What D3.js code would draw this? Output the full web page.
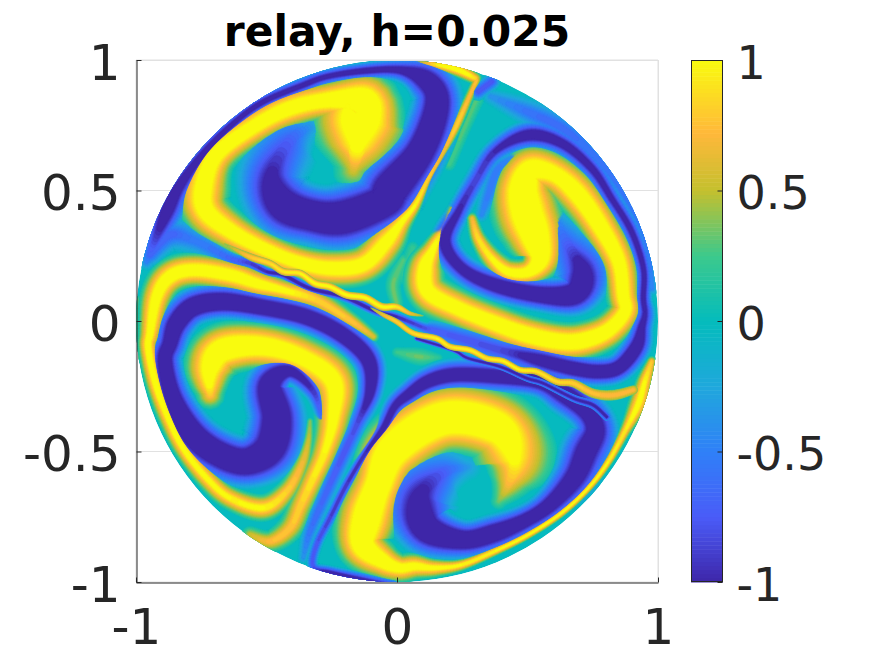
<!DOCTYPE html>
<html><head><meta charset="utf-8">
<script src="https://cdn.jsdelivr.net/npm/d3@7"></script>
<style>html,body{margin:0;padding:0;background:#fff}svg{display:block}text{font-family:"DejaVu Sans";fill:#262626}</style>
</head><body><svg id="c" width="875" height="656"></svg>
<script>
// Field bands: each row = [x, y, half breadth, peak value], all in axis units
const titleText = "relay, h=0.025";
const xTicks = [-1, 0, 1];
const yTicks = [-1, -0.5, 0, 0.5, 1];
const barTicks = [-1, -0.5, 0, 0.5, 1];
const parulaStops = [-1, -0.75, -0.5, -0.25, 0, 0.25, 0.5, 0.72, 1];
const parulaColors = ["#3e26a8", "#4a5cf8", "#2f80f8", "#1fa8dc", "#04bcbc", "#3cc98c", "#c4c02e", "#ffb83a", "#f9fb0e"];

const greenPatches = [
 [[-.001,.067,.03,.35],[-.014,.144,.035,.35],[.024,.233,.03,.3]],
 [[.0,-.12,.025,.25],[.088,-.137,.04,.35],[.16,-.14,.02,.2]],
 [[.31,.86,.035,.3],[.25,.72,.03,.3],[.2,.6,.03,.28]],
 [[-.985,.08,.02,.4],[-.985,-.14,.025,.42]],
 [[.06,.28,.03,.25],[.02,.17,.04,.2]]
];
const ulBlue = [[-.34,.74,.06,-.4],[-.41,.69,.11,-.7],[-.48,.56,.12,-1.05],[-.44,.45,.12,-1.4],[-.33,.405,.105,-1.5],[-.206,.397,.115,-1.5],[-.052,.457,.109,-1.5],[-.021,.508,.12,-1.5],[.082,.636,.095,-1.5],[.139,.764,.09,-1.45],[.152,.866,.085,-1.4],[.101,.93,.075,-1.3],[.005,.962,.04,-1.1],[-.129,.958,.03,-1.1],[-.27,.936,.03,-1.05],[-.359,.904,.032,-1.05],[-.512,.84,.032,-1.05],[-.627,.757,.032,-1.05],[-.736,.649,.04,-1.05],[-.831,.521,.05,-1.15],[-.882,.419,.06,-1.2],[-.934,.291,.05,-.8],[-.959,.227,.03,-.5]];
const urOuterSoft = [[.36,.86,.03,-.4],[.503,.8,.05,-.6],[.631,.74,.05,-.65],[.746,.645,.045,-.6],[.861,.505,.04,-.6],[.95,.329,.03,-.6],[.976,.125,.025,-.5]];
const urInnerSoft = [[.465,.636,.025,-.4],[.388,.585,.035,-.55],[.35,.483,.035,-.55],[.324,.406,.025,-.45]];
const urBlue = [[.6,.4,.05,-.42],[.65,.3,.09,-.7],[.71,.19,.1,-1.2],[.682,.106,.077,-1.45],[.554,.1,.058,-1.4],[.375,.138,.054,-1.3],[.248,.202,.05,-1.2],[.184,.304,.05,-1.2],[.235,.419,.04,-1.05],[.299,.534,.04,-.9],[.375,.649,.04,-1.0],[.503,.712,.05,-1.2],[.631,.681,.045,-1.15],[.746,.585,.04,-1.1],[.822,.47,.036,-1.05],[.899,.342,.034,-1.05],[.944,.202,.03,-1.05],[.944,.087,.03,-1.05],[.95,.029,.036,-1.0],[.938,-.022,.04,-1.1],[.918,-.098,.05,-1.3],[.854,-.175,.05,-1.35],[.778,-.194,.05,-1.35],[.676,-.182,.05,-1.35],[.548,-.15,.055,-1.2],[.471,-.13,.055,-1],[.395,-.111,.055,-.85],[.267,-.073,.05,-.8],[.139,-.035,.035,-.75],[.101,-.025,.02,-.85],[-.001,.016,.016,-1.0],[-.078,.036,.016,-1.05],[-.205,.093,.016,-1.05],[-.333,.125,.016,-1.05],[-.435,.176,.016,-1.05],[-.499,.189,.016,-1],[-.563,.221,.022,-.9],[-.64,.24,.03,-.7],[-.768,.304,.05,-.55],[-.87,.33,.06,-.7],[-.946,.253,.04,-.7]];
const llBlue = [[-.289,-.372,.02,-.6],[-.321,-.269,.035,-.95],[-.41,-.193,.05,-1.2],[-.487,-.244,.085,-1.4],[-.461,-.372,.1,-1.5],[-.487,-.487,.105,-1.5],[-.576,-.538,.09,-1.5],[-.678,-.512,.085,-1.5],[-.78,-.435,.08,-1.5],[-.857,-.295,.065,-1.35],[-.889,-.155,.06,-1.3],[-.87,-.086,.06,-1.3],[-.844,-.009,.065,-1.4],[-.78,.055,.065,-1.45],[-.665,.074,.06,-1.45],[-.512,.052,.055,-1.4],[-.346,.015,.055,-1.4],[-.206,-.055,.055,-1.4],[-.11,-.15,.055,-1.35],[-.103,-.27,.045,-1.2],[-.154,-.397,.035,-.85],[-.206,-.512,.035,-.8],[-.269,-.653,.035,-.7],[-.333,-.806,.03,-.6],[-.359,-.908,.02,-.4]];
const lrBlue = [[.27,-.56,.05,-.35],[.18,-.58,.1,-.7],[.09,-.67,.13,-1.1],[.11,-.79,.1,-1.45],[.248,-.838,.068,-1.4],[.375,-.812,.064,-1.4],[.5,-.76,.055,-1.3],[.59,-.7,.06,-1.3],[.68,-.6,.08,-1.3],[.725,-.5,.09,-1.3],[.76,-.42,.08,-1.3],[.73,-.35,.07,-1.3],[.64,-.28,.07,-1.3],[.541,-.231,.055,-1.3],[.375,-.212,.055,-1.3],[.222,-.206,.055,-1.3],[.12,-.231,.05,-1.3],[.043,-.282,.045,-1.2],[-.008,-.327,.04,-1.1],[-.052,-.41,.03,-1.1],[-.116,-.499,.02,-1],[-.193,-.627,.02,-.95],[-.257,-.755,.02,-.9],[-.308,-.857,.02,-.8],[-.321,-.94,.02,-.8],[-.257,-.966,.025,-1.1],[-.129,-.998,.03,-1.2],[-.014,-1.01,.02,-.8]];
const ulYellow = [[-.167,.578,.07,.55],[-.155,.649,.134,.9],[-.142,.764,.166,1.7],[-.129,.84,.11,1.8],[-.257,.847,.07,1.5],[-.41,.815,.07,1.4],[-.55,.744,.066,1.4],[-.693,.636,.072,1.4],[-.742,.508,.09,1.4],[-.729,.419,.085,1.4],[-.633,.342,.07,1.4],[-.512,.278,.06,1.4],[-.384,.227,.058,1.4],[-.257,.202,.064,1.4],[-.129,.217,.066,1.4],[-.04,.304,.064,1.3],[.018,.38,.04,1.1],[.069,.444,.023,1],[.12,.546,.014,.85],[.171,.636,.015,.7],[.229,.751,.018,.85],[.28,.866,.016,.75],[.305,.923,.015,.8]];
const topRimYellow = [[.069,.994,.006,.4],[.158,.981,.018,1],[.235,.962,.025,1.2],[.299,.93,.022,.9]];
const topNotchBlue = [[.311,.879,.03,-.8],[.363,.917,.03,-.8]];
const urYellow = [[.288,.393,.02,.7],[.311,.317,.028,.9],[.363,.24,.038,1],[.426,.189,.045,1.2],[.503,.189,.05,1.4],[.548,.24,.077,1.6],[.529,.329,.108,1.8],[.497,.419,.12,1.8],[.484,.508,.108,1.8],[.516,.578,.09,1.6],[.605,.562,.075,1.4],[.695,.483,.077,1.5],[.784,.355,.07,1.5],[.85,.227,.064,1.4],[.867,.099,.058,1.4],[.873,.036,.058,1.4],[.81,-.035,.061,1.5],[.72,-.073,.064,1.6],[.631,-.079,.064,1.6],[.503,-.054,.064,1.6],[.375,-.009,.064,1.5],[.235,.048,.066,1.4],[.12,.112,.07,1.4],[.107,.202,.064,1.4],[.139,.278,.04,1.15],[.177,.355,.023,.75],[.209,.432,.015,.5]];
const lrYellow = [[.39,-.69,.03,.35],[.43,-.62,.075,.72],[.45,-.53,.14,1.0],[.388,-.41,.125,1.7],[.184,-.372,.12,1.9],[-.008,-.487,.115,1.9],[-.072,-.627,.096,1.8],[-.116,-.755,.108,1.8],[-.129,-.857,.09,1.7],[-.052,-.921,.064,1.5],[.011,-.946,.05,1.3],[.069,-.94,.045,1.2],[.145,-.946,.032,1.05],[.248,-.934,.02,1],[.375,-.882,.016,1],[.503,-.819,.014,1],[.631,-.735,.014,1],[.733,-.64,.014,1],[.81,-.538,.015,1],[.873,-.423,.02,.95],[.924,-.32,.035,1.1],[.95,-.231,.03,1],[.976,-.155,.018,.8]];
const llRimYellow = [[-.333,-.384,.012,.4],[-.34,-.461,.02,.55],[-.365,-.55,.03,.7],[-.423,-.653,.038,.85],[-.512,-.716,.045,1],[-.64,-.678,.04,1],[-.729,-.602,.038,1.05],[-.819,-.487,.035,1.1],[-.882,-.359,.035,1.1],[-.927,-.231,.035,1.2],[-.953,-.103,.035,1.2],[-.946,-.047,.04,1.2],[-.921,.093,.055,1.3],[-.87,.17,.06,1.4],[-.78,.195,.058,1.4],[-.64,.176,.056,1.4],[-.538,.144,.05,1.3],[-.435,.118,.04,1.1],[-.308,.08,.04,.85],[-.18,.003,.03,.8],[-.09,-.06,.02,.6]];
const llYellow = [[-.716,-.282,.05,.8],[-.716,-.18,.09,1.4],[-.665,-.11,.09,1.7],[-.512,-.097,.077,1.6],[-.359,-.142,.077,1.4],[-.244,-.231,.083,1.4],[-.244,-.372,.064,1.2],[-.276,-.499,.05,1],[-.321,-.602,.045,.95],[-.368,-.704,.045,.85],[-.41,-.793,.045,.8],[-.487,-.844,.038,.75],[-.563,-.819,.03,.55]];
const stripeUpper = [[-.66,.295,.012,.4],[-.563,.246,.022,.8],[-.486,.22,.02,.9],[-.435,.189,.02,.95],[-.371,.182,.02,1],[-.314,.144,.02,1.1],[-.256,.131,.02,1.1],[-.193,.1,.02,1.1],[-.122,.089,.02,1.1],[-.059,.055,.02,1.1],[-.001,.054,.018,.95],[.05,.029,.014,.7],[.1,.02,.01,.4]];
const stripeLower = [[-.1,.05,.01,.4],[-.052,.023,.014,.7],[-.001,-.003,.016,.85],[.063,-.047,.016,.9],[.152,-.067,.016,1],[.203,-.098,.016,.95],[.28,-.112,.016,1],[.344,-.143,.016,.95],[.407,-.154,.016,1],[.471,-.187,.016,1],[.535,-.194,.018,.95],[.612,-.232,.02,.9],[.676,-.239,.024,.85],[.752,-.277,.03,.78],[.829,-.284,.035,.75],[.906,-.264,.03,.75]];
const darkUnderLower = [[.075,-.067,.012,-1],[.216,-.112,.012,-1],[.273,-.143,.014,-1],[.395,-.175,.016,-1],[.497,-.219,.018,-1],[.561,-.239,.018,-1],[.676,-.296,.02,-1],[.752,-.322,.022,-1],[.803,-.367,.022,-1]];

const softBands = [greenPatches[0], greenPatches[1], greenPatches[2], greenPatches[3], greenPatches[4]];
const mainBands = [urOuterSoft, urInnerSoft, ulBlue, urBlue, llBlue, lrBlue, topNotchBlue, ulYellow, urYellow, lrYellow, llYellow, llRimYellow, topRimYellow];
const thinBands = [darkUnderLower, stripeUpper, stripeLower];
const levels = d3.range(.06,1.001,.047);
const mainSpread = 1.25;

const svg = d3.select("#c");
const x = d3.scaleLinear().domain([-1,1]).range([136,658]);
const y = d3.scaleLinear().domain([-1,1]).range([582,60]);
const parula = d3.scaleLinear().domain(parulaStops).range(parulaColors).interpolate(d3.interpolateRgb);
const lineGen = d3.line().x(d=>d[0]).y(d=>d[1]);

const gridCol = "#e1e1e1", ink = "#262626";
const g = svg.append("g");
g.selectAll(".gy").data(yTicks).join("line").attr("x1",x(-1)).attr("x2",x(1)).attr("y1",d=>y(d)).attr("y2",d=>y(d)).attr("stroke",gridCol);
g.selectAll(".gx").data(xTicks).join("line").attr("y1",y(-1)).attr("y2",y(1)).attr("x1",d=>x(d)).attr("x2",d=>x(d)).attr("stroke",gridCol);

svg.append("clipPath").attr("id","disk").append("circle").attr("cx",x(0)).attr("cy",y(0)).attr("r",x(1)-x(0));
const field = svg.append("g").attr("clip-path","url(#disk)");
field.append("circle").attr("cx",x(0)).attr("cy",y(0)).attr("r",x(1)-x(0)).attr("fill",parula(-.02));

function cr(a,b,c,d,t){return .5*((2*b)+(-a+c)*t+(2*a-5*b+4*c-d)*t*t+(-a+3*b-3*c+d)*t*t*t);}
function sample(pts){
  const out=[];
  for(let i=0;i<pts.length-1;i++){
    const p0=pts[i-1]||pts[i],p1=pts[i],p2=pts[i+1],p3=pts[i+2]||pts[i+1];
    for(let s=0;s<10;s++){const t=s/10;out.push([0,1,2,3].map(k=>cr(p0[k],p1[k],p2[k],p3[k],t)));}
  }
  out.push(pts[pts.length-1].slice());
  return out;
}
const unit = x(1)-x(0);
function prepare(pts,spread){
  const sign = Math.sign(pts[Math.floor(pts.length/2)][3]);
  const s = sample(pts).map(d=>{
    let p=Math.abs(d[3]);
    if(sign>0&&p>1) p=1+(p-1)*.5;           // yellow crests have narrower plateaus than blue troughs
    return {px:x(d[0]),py:y(d[1]),w:Math.max(d[2],0)*unit*spread,p};
  });
  s.forEach((d,i)=>{
    const a=s[Math.max(i-1,0)],b=s[Math.min(i+1,s.length-1)];
    let tx=b.px-a.px,ty=b.py-a.py;const n=Math.hypot(tx,ty)||1;d.tx=tx/n;d.ty=ty/n;
  });
  return {sign,s};
}
function paint(band,L){
  const {sign,s}=band;
  let run=[];
  const flush=()=>{
    if(run.length>1){
      const left=run.map(d=>[d.px-d.ty*d.h,d.py+d.tx*d.h]);
      const right=run.map(d=>[d.px+d.ty*d.h,d.py-d.tx*d.h]).reverse();
      const e=run[run.length-1],b=run[0];
      const cap=(d,dir)=>d3.range(1,6).map(i=>{const an=i/6*Math.PI;
        const c=Math.cos(an),si=Math.sin(an);
        const nx=-d.ty,ny=d.tx;
        return [d.px+d.h*(nx*c+dir*d.tx*si),d.py+d.h*(ny*c+dir*d.ty*si)];});
      const poly=left.concat(cap(e,1),right,cap(b,-1).reverse());
      field.append("path").attr("d",lineGen(poly)+"Z").attr("fill",parula(sign*L)).attr("stroke",parula(sign*L)).attr("stroke-width",.4);
    }
    run=[];
  };
  s.forEach(d=>{
    if(L<=d.p){run.push(Object.assign({},d,{h:d.w*(1-.87*L/d.p)}));} else flush();
  });
  flush();
}
const soft=softBands.map(b=>prepare(b,1)), main=mainBands.map(b=>prepare(b,mainSpread)), thin=thinBands.map(b=>prepare(b,1));
levels.forEach(L=>soft.forEach(b=>paint(b,L)));
levels.forEach(L=>main.forEach(b=>paint(b,L)));
thin.forEach(b=>levels.filter(L=>L>=.38).forEach(L=>paint(b,L)));

svg.append("line").attr("x1",x(-1)).attr("x2",x(1)).attr("y1",y(1)+.5).attr("y2",y(1)+.5).attr("stroke",gridCol);
svg.append("line").attr("x1",x(1)+.5).attr("x2",x(1)+.5).attr("y1",y(1)).attr("y2",y(-1)).attr("stroke",gridCol);

const fmt = d=>String(d);
const ax = svg.append("g").attr("transform",`translate(0,${y(-1)+.5})`)
  .call(d3.axisBottom(x).tickValues(xTicks).tickFormat(fmt).tickSizeInner(-5).tickSizeOuter(0).tickPadding(0));
const ay = svg.append("g").attr("transform",`translate(${x(-1)+.5},0)`)
  .call(d3.axisLeft(y).tickValues(yTicks).tickFormat(fmt).tickSizeInner(-5).tickSizeOuter(0).tickPadding(0));
[ax,ay].forEach(a=>{a.selectAll("path,line").attr("stroke",ink);a.selectAll("text").attr("font-size",50).attr("font-family","DejaVu Sans").attr("fill",ink);});
ax.selectAll("text").attr("dy",null).attr("y",61);
ay.selectAll("text").attr("x",-16).attr("dy",null).attr("y",19);

const cbx0=691, cbx1=723;
const cby = d3.scaleLinear().domain([-1,1]).range([582,60]);
const steps = d3.range(128).map(i=>-1+2*i/128);
svg.append("g").selectAll("rect").data(steps).join("rect").attr("x",cbx0).attr("width",cbx1-cbx0)
  .attr("y",d=>cby(d+2/128)).attr("height",d=>cby(d)-cby(d+2/128)+.5).attr("fill",d=>parula(d+1/128));
svg.append("rect").attr("x",cbx0+.5).attr("y",60.5).attr("width",cbx1-cbx0-1).attr("height",521).attr("fill","none").attr("stroke",ink);
const ac = svg.append("g").attr("transform",`translate(${cbx1-.5},0)`)
  .call(d3.axisRight(cby).tickValues(barTicks).tickFormat(fmt).tickSizeInner(-5).tickSizeOuter(0).tickPadding(0));
ac.select("path").remove();
ac.selectAll("line").attr("stroke",ink);
ac.selectAll("text").attr("font-size",46).attr("font-family","DejaVu Sans").attr("fill",ink).attr("x",14).attr("dy",null).attr("y",18);

svg.append("text").attr("x",397).attr("y",46).attr("text-anchor","middle").attr("font-size",42.4).attr("font-weight","bold").attr("fill","#000").style("fill","#000").text(titleText);
</script></body></html>
